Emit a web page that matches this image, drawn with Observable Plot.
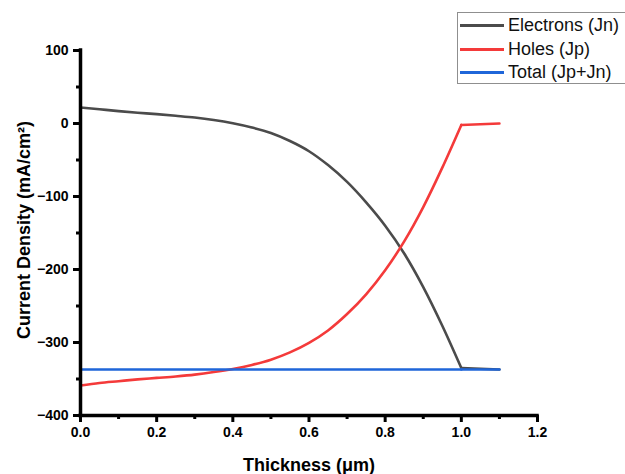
<!DOCTYPE html>
<html>
<head>
<meta charset="utf-8">
<script src="https://cdn.jsdelivr.net/npm/d3@7"></script>
<script src="https://cdn.jsdelivr.net/npm/@observablehq/plot@0.6"></script>
<style>
  html, body { margin: 0; padding: 0; background: #fff; overflow: hidden; }
  #wrap { position: relative; width: 625px; height: 474px; }
  .legend {
    position: absolute; left: 457px; top: 12px; width: 200px; height: 70px;
    border: 1px solid #8f8f8f; background: #fff;
    font: 18px "Liberation Sans", Arial, sans-serif; color: #111;
  }
  .legend .item { position: absolute; left: 0; height: 22px; }
  .legend .swatch { position: absolute; left: 2px; width: 44px; height: 0; border-top: 3px solid; }
  .legend .name { position: absolute; left: 50px; white-space: nowrap; line-height: 22px; }
</style>
</head>
<body>
<div id="wrap"></div>
<script>
// Thickness through the device (µm)
const thickness = [0, 0.05, 0.1, 0.15, 0.2, 0.25, 0.3, 0.35, 0.4, 0.45, 0.5, 0.55, 0.6, 0.65, 0.7, 0.75, 0.8, 0.85, 0.9, 0.95, 1.0, 1.1];
// Electron current density Jn (mA/cm²)
const electrons = [22, 19.5, 17, 14.8, 12.8, 10.6, 8.2, 4.8, 0.3, -5.5, -13, -24, -38, -57, -80, -108, -140, -178, -224, -277, -335, -337];
// Hole current density Jp (mA/cm²)
const holes = [-359, -355.5, -353, -350.5, -348.5, -346.5, -344, -340.5, -336.2, -330.7, -323.5, -313.5, -300.5, -283.5, -261, -234, -201, -161.5, -114.5, -60.5, -2, 0];
// Total current density Jp + Jn (mA/cm²)
const total = [-337, -337, -337, -337, -337, -337, -337, -337, -337, -337, -337, -337, -337, -337, -337, -337, -337, -337, -337, -337, -337, -337];

const seriesNames = ["Electrons (Jn)", "Holes (Jp)", "Total (Jp+Jn)"];
const seriesColors = ["#4b4b4b", "#f43a3a", "#1f66d9"];
const seriesValues = [electrons, holes, total];

const xTicks = [0, 0.2, 0.4, 0.6, 0.8, 1.0, 1.2];
const xMinor = [0.1, 0.3, 0.5, 0.7, 0.9, 1.1];
const yTicks = [-400, -300, -200, -100, 0, 100];
const yMinor = [-350, -250, -150, -50, 50];

const rows = seriesNames.flatMap((name, i) =>
  thickness.map((x, j) => ({series: name, x, y: seriesValues[i][j]}))
);

const lineMarks = seriesNames.flatMap((name, i) => {
  const pts = rows.filter(d => d.series === name);
  return [
    // smooth part inside the absorber, then the straight tail past 1.0 µm
    Plot.line(pts.filter(d => d.x <= 1.0), {x: "x", y: "y", stroke: seriesColors[i], strokeWidth: 2.6, curve: "monotone-x"}),
    Plot.line(pts.filter(d => d.x >= 1.0), {x: "x", y: "y", stroke: seriesColors[i], strokeWidth: 2.6})
  ];
});

// outward tick marks on the axis lines (zero-length rules widened by negative insets)
const tickMarks = [
  Plot.ruleX(xTicks, {x: d => d, y1: -400, y2: -400, insetBottom: -7, stroke: "#000", strokeWidth: 3}),
  Plot.ruleX(xMinor, {x: d => d, y1: -400, y2: -400, insetBottom: -4, stroke: "#000", strokeWidth: 3}),
  Plot.ruleY(yTicks, {y: d => d, x1: 0, x2: 0, insetLeft: -7, stroke: "#000", strokeWidth: 3}),
  Plot.ruleY(yMinor, {y: d => d, x1: 0, x2: 0, insetLeft: -4, stroke: "#000", strokeWidth: 3})
];

const font = "'Liberation Sans', Arial, sans-serif";

const chart = Plot.plot({
  width: 625,
  height: 474,
  marginLeft: 80,
  marginRight: 88,
  marginTop: 50,
  marginBottom: 59,
  style: {fontFamily: font, fontSize: "14px", fontWeight: "bold", color: "#000", background: "#fff", overflow: "visible"},
  x: {domain: [0, 1.2]},
  y: {domain: [-400, 100]},
  marks: [
    ...lineMarks,
    Plot.axisX({ticks: xTicks, tickSize: 0, tickPadding: 12, tickFormat: d3.format(".1f"), fontSize: 14, fontWeight: "bold", label: null}),
    Plot.axisY({ticks: yTicks, tickSize: 0, tickPadding: 12, fontSize: 14, fontWeight: "bold", label: null}),
    ...tickMarks,
    Plot.ruleX([0], {y1: -400, y2: 100, stroke: "#000", strokeWidth: 3.5, strokeLinecap: "square"}),
    Plot.ruleY([-400], {x1: 0, x2: 1.2, stroke: "#000", strokeWidth: 3.5, strokeLinecap: "square"}),
    Plot.text(["Thickness (μm)"], {frameAnchor: "bottom", dy: 55, lineAnchor: "bottom", fontSize: 18, fontWeight: "bold"}),
    Plot.text(["Current Density (mA/cm²)"], {frameAnchor: "left", dx: -51, dy: -3, rotate: -90, textAnchor: "middle", lineAnchor: "bottom", fontSize: 18, fontWeight: "bold"})
  ]
});

const wrap = document.getElementById("wrap");
wrap.appendChild(chart);

// Series key in the top-right corner
const legend = document.createElement("div");
legend.className = "legend";
seriesNames.forEach((name, i) => {
  const item = document.createElement("div");
  item.className = "item";
  item.style.top = (1 + i * 23.5) + "px";
  const sw = document.createElement("span");
  sw.className = "swatch";
  sw.style.borderColor = seriesColors[i];
  sw.style.top = "10px";
  const label = document.createElement("span");
  label.className = "name";
  label.textContent = name;
  item.appendChild(sw);
  item.appendChild(label);
  legend.appendChild(item);
});
wrap.appendChild(legend);
</script>
</body>
</html>
